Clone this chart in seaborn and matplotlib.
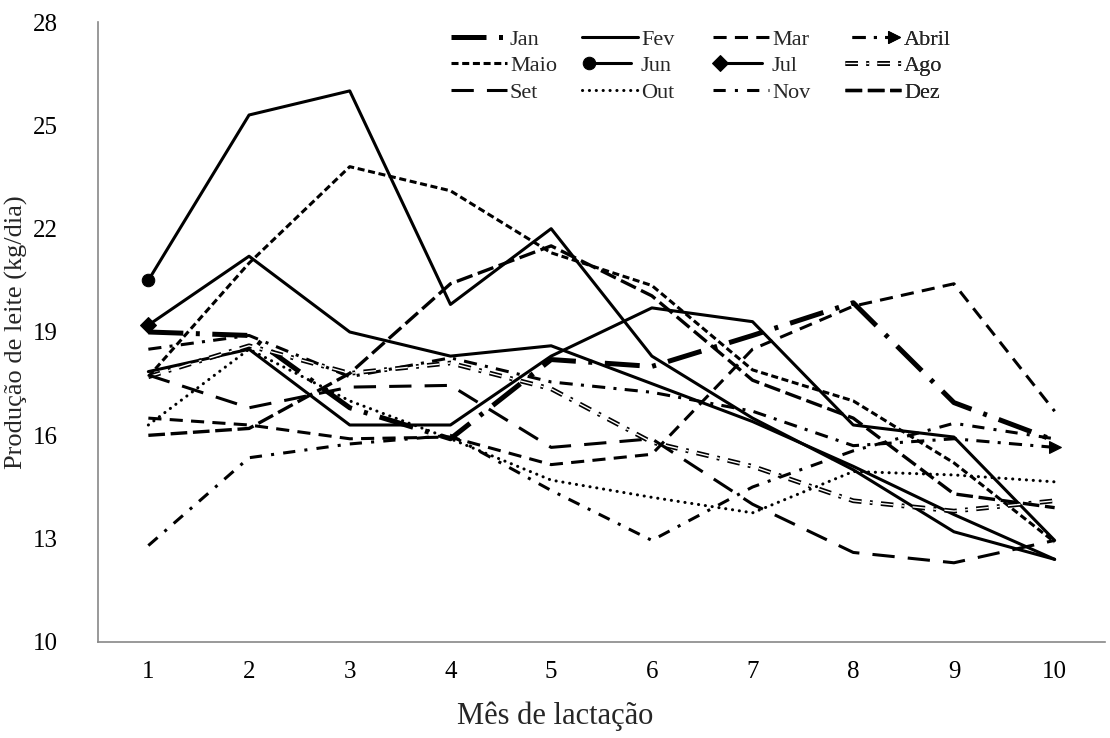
import numpy as np
import pandas as pd
import matplotlib
matplotlib.use('Agg')
import matplotlib.pyplot as plt
import matplotlib.patheffects as pe
from matplotlib.legend_handler import HandlerLine2D
import seaborn as sns

# Produção de leite por mês de lactação, por mês de parto
meses = [1, 2, 3, 4, 5, 6, 7, 8, 9, 10]
jan = [19.0, 18.9, 16.8, 15.9, 18.2, 18.0, 18.9, 19.85, 16.95, 15.85]
fev = [17.85, 18.5, 16.3, 16.3, 18.3, 19.7, 19.3, 16.3, 15.95, 12.95]
mar = [16.5, 16.3, 15.9, 15.95, 15.15, 15.45, 18.5, 19.75, 20.4, 16.7]
abril = [18.5, 18.9, 17.7, 18.25, 17.55, 17.25, 16.7, 15.7, 15.9, 15.65]
maio = [17.7, 21.0, 23.8, 23.1, 21.3, 20.35, 17.9, 17.0, 15.2, 12.9]
jun = [20.5, 25.3, 26.0, 19.8, 22.0, 18.3, 16.5, 15.0, 13.2, 12.4]
jul = [19.2, 21.2, 19.0, 18.3, 18.6, 17.5, 16.4, 15.1, 13.7, 12.4]
ago = [17.7, 18.6, 17.8, 18.1, 17.35, 15.8, 15.1, 14.1, 13.8, 14.1]
setembro = [17.75, 16.8, 17.4, 17.45, 15.65, 15.9, 14.0, 12.6, 12.3, 12.95]
out = [16.3, 18.5, 17.0, 15.9, 14.7, 14.2, 13.75, 14.95, 14.85, 14.65]
nov = [12.8, 15.35, 15.75, 16.0, 14.4, 12.95, 14.5, 15.55, 16.35, 15.9]
dez = [16.0, 16.2, 17.8, 20.4, 21.5, 20.05, 17.6, 16.5, 14.3, 13.9]

nomes = ['Jan', 'Fev', 'Mar', 'Abril', 'Maio', 'Jun',
         'Jul', 'Ago', 'Set', 'Out', 'Nov', 'Dez']
series = [jan, fev, mar, abril, maio, jun, jul, ago, setembro, out, nov, dez]

# estilo de cada linha: (linestyle, largura, marcador, indice do marcador)
estilos = {
    'Jan': ((0, (7, 2.5, 0.8, 2.5)), 3.6, None, None),
    'Fev': ('-', 2.2, None, None),
    'Mar': ((0, (4.3, 2.7)), 2.2, None, None),
    'Abril': ((0, (4.3, 2.7, 1, 2.7)), 2.2, '>', -1),
    'Maio': ((0, (2.3, 1.2)), 2.2, None, None),
    'Jun': ('-', 2.2, 'o', 0),
    'Jul': ('-', 2.2, 'D', 0),
    'Ago': ((0, (9, 6, 2, 6)), 1.0, None, None),
    'Set': ((0, (7.3, 4.3)), 2.2, None, None),
    'Out': ((0, (0.05, 2.2)), 2.2, None, None),
    'Nov': ((0, (4, 3, 1, 3)), 2.2, None, None),
    'Dez': ((0, (5, 1.7)), 2.4, None, None),
}

sns.set_style('white')
plt.rcParams['font.family'] = ['Liberation Serif', 'DejaVu Serif']

fig = plt.figure(figsize=(11.1, 7.38), dpi=100)
ax = fig.add_axes([98 / 1110, 1 - 642 / 738, 1007 / 1110, 620 / 738])

linhas = {}
for nome, vals in zip(nomes, series):
    ls, lw, mk, idx = estilos[nome]
    kws = dict(color='black', linewidth=lw, linestyle=ls, errorbar=None,
               legend=False, label=nome)
    if mk is not None:
        kws.update(marker=mk, markevery=[idx], markersize=9 if mk == 'o' else 8,
                   markeredgecolor='black', markerfacecolor='black')
    if nome == 'Out':
        kws['dash_capstyle'] = 'round'
    if nome == 'Ago':
        kws['color'] = 'white'
    sns.lineplot(x=meses, y=vals, ax=ax, **kws)
    linha = ax.lines[-1]
    if nome == 'Ago':
        linha.set_path_effects([pe.Stroke(linewidth=3.4, foreground='black'),
                                pe.Normal()])
    linhas[nome] = linha

ax.set_xlim(0.5, 10.5)
ax.set_ylim(10, 28)
ax.set_xticks(meses)
ax.set_yticks([10, 13, 16, 19, 22, 25, 28])
ax.tick_params(axis='both', length=0, labelsize=18, colors='black')
ax.tick_params(axis='y', pad=29)
ax.tick_params(axis='x', pad=14)
sns.despine(ax=ax)
for lado in ['left', 'bottom']:
    ax.spines[lado].set_color('#888888')
    ax.spines[lado].set_linewidth(1.2)
ax.grid(False)
ax.set_xlabel('Mês de lactação', fontsize=22)
ax.set_ylabel('Produção de leite (kg/dia)', fontsize=19)
ax.xaxis.set_label_coords((555 - 98) / 1007, -(716 - 642) / 620)
ax.yaxis.set_label_coords(-(98 - 16) / 1007, 0.5)
ax.xaxis.label.set_va('center')
ax.yaxis.label.set_va('center')


class MarcadorPonta(HandlerLine2D):
    def __init__(self, idx, **kw):
        super().__init__(numpoints=2, **kw)
        self.idx = idx

    def create_artists(self, *args, **kwargs):
        artistas = super().create_artists(*args, **kwargs)
        for a in artistas:
            a.set_markevery([self.idx])
        return artistas


mapa = {linhas['Jun']: MarcadorPonta(0), linhas['Jul']: MarcadorPonta(0),
        linhas['Abril']: MarcadorPonta(-1)}

# legenda: 4 colunas de largura fixa, preenchidas por linhas como no original
colunas_x = [451, 582, 713, 845]
for c, x0 in enumerate(colunas_x):
    grupo = [nomes[c + 4 * r] for r in range(3)]
    leg = ax.legend([linhas[n] for n in grupo], grupo, loc='upper left',
                    frameon=False, bbox_to_anchor=(x0 / 1110, 1 - 29 / 738),
                    bbox_transform=fig.transFigure, fontsize=16,
                    handlelength=2.5, handletextpad=0.15, labelspacing=0.27,
                    borderaxespad=0, borderpad=0, handler_map=mapa)
    ax.add_artist(leg)

fig.savefig('out.png', dpi=100)
